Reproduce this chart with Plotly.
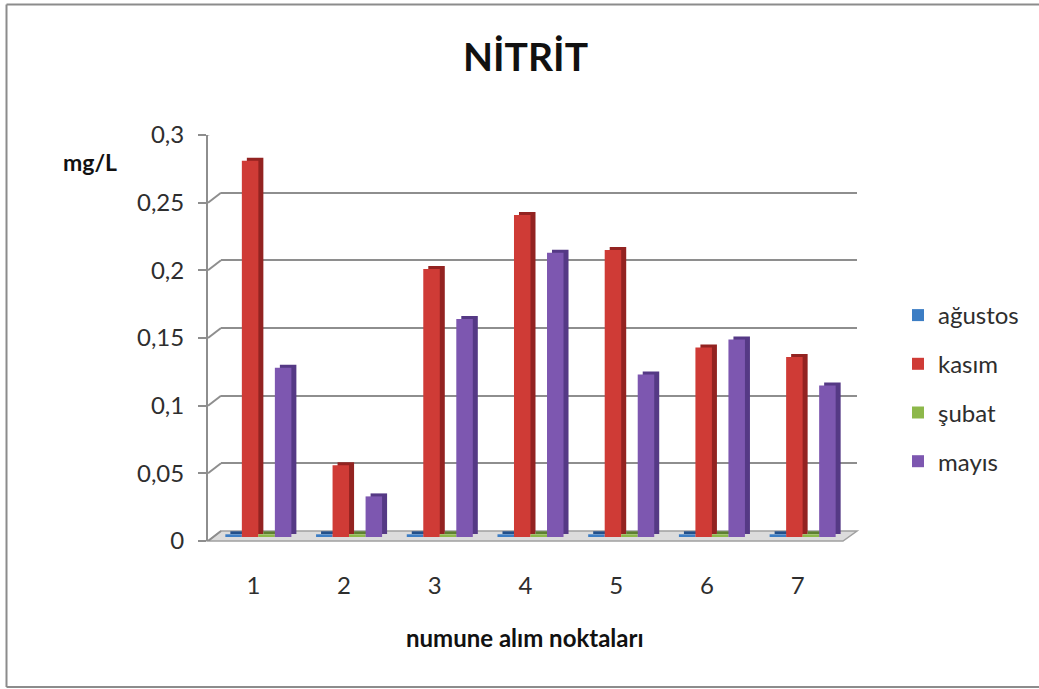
import plotly.graph_objects as go

# Sampling points and nitrite readings (mg/L) per month
points = ["1", "2", "3", "4", "5", "6", "7"]
months = ["ağustos", "kasım", "şubat", "mayıs"]
agustos = [0.002, 0.002, 0.002, 0.002, 0.002, 0.002, 0.002]
kasim = [0.278, 0.053, 0.198, 0.238, 0.212, 0.140, 0.133]
subat = [0.002, 0.002, 0.002, 0.002, 0.002, 0.002, 0.002]
mayis = [0.125, 0.030, 0.161, 0.210, 0.120, 0.146, 0.112]
series = [agustos, kasim, subat, mayis]

y_ticks = [0, 0.05, 0.1, 0.15, 0.2, 0.25, 0.3]
y_tick_text = ["0", "0,05", "0,1", "0,15", "0,2", "0,25", "0,3"]

face_colors = ["#3C7DC4", "#CF3B36", "#8DB84A", "#7D57B0"]
side_colors = ["#23508A", "#932321", "#5E8030", "#553985"]

W, H = 1039, 689
FONT = "Lato"
TEXT = "#2E2E2E"


def fx(px):
    return px / W


def fy(py):
    return 1 - py / H


fig = go.Figure()

# back wall (gridlines only)
fig.add_trace(go.Scatter(x=[0], y=[0], mode="markers", marker=dict(opacity=0),
                         showlegend=False, hoverinfo="skip", xaxis="x", yaxis="y"))
# front frame (axis labels)
fig.add_trace(go.Scatter(x=points, y=[0] * len(points), mode="markers",
                         marker=dict(opacity=0), showlegend=False,
                         hoverinfo="skip", xaxis="x2", yaxis="y2"))

# extruded sides of the columns
for vals, col in zip(series, side_colors):
    fig.add_trace(go.Bar(x=points, y=vals, marker=dict(color=col, line_width=0),
                         showlegend=False, hoverinfo="skip",
                         xaxis="x3", yaxis="y3"))

# column faces
for name, vals, col in zip(months, series, face_colors):
    fig.add_trace(go.Bar(x=points, y=vals, name=name, legendgroup=name,
                         marker=dict(color=col, line_width=0),
                         xaxis="x4", yaxis="y4"))

hidden = dict(visible=False, fixedrange=True, automargin=False)
cat_range = [-0.5, len(points) - 0.5]

fig.update_layout(
    width=W, height=H, autosize=False,
    margin=dict(l=0, r=0, t=0, b=0, pad=0, autoexpand=False),
    paper_bgcolor="white",
    plot_bgcolor="rgba(0,0,0,0)",
    font=dict(family=FONT, size=24, color=TEXT),
    barmode="group", bargap=0.272, bargroupgap=0,
    xaxis=dict(domain=[fx(221), fx(857)], range=[0, 1], **hidden),
    yaxis=dict(domain=[fy(531), fy(125)], range=[0, 0.3], tickvals=y_ticks[1:],
               showgrid=True, gridcolor="#8E8E8E", gridwidth=2,
               showticklabels=False, zeroline=False, showline=False,
               fixedrange=True, automargin=False),
    xaxis2=dict(domain=[fx(208), fx(843)], type="category", range=cat_range,
                anchor="y2", showgrid=False, zeroline=False, showline=False,
                ticks="outside", ticklen=23, tickcolor="rgba(0,0,0,0)",
                tickfont=dict(size=24, color=TEXT), fixedrange=True,
                automargin=False),
    yaxis2=dict(domain=[fy(541), fy(135)], range=[0, 0.3], anchor="x2",
                tickvals=y_ticks, ticktext=y_tick_text, showgrid=False,
                zeroline=False, showline=True, linecolor="#8E8E8E", linewidth=2,
                ticks="outside", ticklen=8, tickwidth=2, tickcolor="#8E8E8E",
                ticklabelstandoff=9,
                tickfont=dict(size=24, color=TEXT), fixedrange=True,
                automargin=False),
    xaxis3=dict(domain=[fx(218), fx(853)], type="category", range=cat_range,
                anchor="y3", **hidden),
    yaxis3=dict(domain=[fy(534), fy(128)], range=[0, 0.3], anchor="x3", **hidden),
    xaxis4=dict(domain=[fx(213), fx(848)], type="category", range=cat_range,
                anchor="y4", **hidden),
    yaxis4=dict(domain=[fy(537), fy(131)], range=[0, 0.3], anchor="x4", **hidden),
    legend=dict(x=fx(898), y=fy(293), xanchor="left", yanchor="top",
                traceorder="grouped", tracegroupgap=14.5,
                font=dict(size=24, color=TEXT),
                bgcolor="rgba(0,0,0,0)", borderwidth=0),
)

shapes = []
# floor slab
shapes.append(dict(
    type="path", xref="paper", yref="paper", layer="below",
    path=(f"M {fx(208)} {fy(541)} L {fx(221)} {fy(531)} "
          f"L {fx(857)} {fy(531)} L {fx(843)} {fy(541)} Z"),
    fillcolor="#DCDCDC", line=dict(color="#A0A0A0", width=1.5)))
# connectors from the front axis ticks to the back-wall gridlines
for v in y_ticks:
    shapes.append(dict(
        type="line", xref="paper", yref="y2", ysizemode="pixel", yanchor=v,
        x0=fx(208), x1=fx(221), y0=0, y1=10,
        line=dict(color="#8E8E8E", width=2), layer="below"))
# chart frame
shapes.append(dict(type="line", xref="paper", yref="paper",
                   x0=fx(6.5), x1=1.01, y0=fy(4.5), y1=fy(4.5),
                   line=dict(color="#8C8C8C", width=2)))
shapes.append(dict(type="line", xref="paper", yref="paper",
                   x0=fx(6.5), x1=1.01, y0=fy(687), y1=fy(687),
                   line=dict(color="#8C8C8C", width=2)))
shapes.append(dict(type="line", xref="paper", yref="paper",
                   x0=fx(6.5), x1=fx(6.5), y0=fy(4.5), y1=fy(687),
                   line=dict(color="#8C8C8C", width=2)))
fig.update_layout(shapes=shapes)

centered = dict(xref="paper", yref="paper", xanchor="center",
                yanchor="middle", showarrow=False)
fig.update_layout(annotations=[
    dict(text="<b>NİTRİT</b>", x=fx(525), y=fy(56),
         font=dict(family=FONT, size=39, color="#111111"), **centered),
    dict(text="<b>mg/L</b>", x=fx(90), y=fy(162),
         font=dict(family=FONT, size=23, color="#111111"), **centered),
    dict(text="<b>numune alım noktaları</b>", x=fx(525), y=fy(637),
         font=dict(family=FONT, size=24, color="#111111"), **centered),
])

fig.write_html("out.html")
